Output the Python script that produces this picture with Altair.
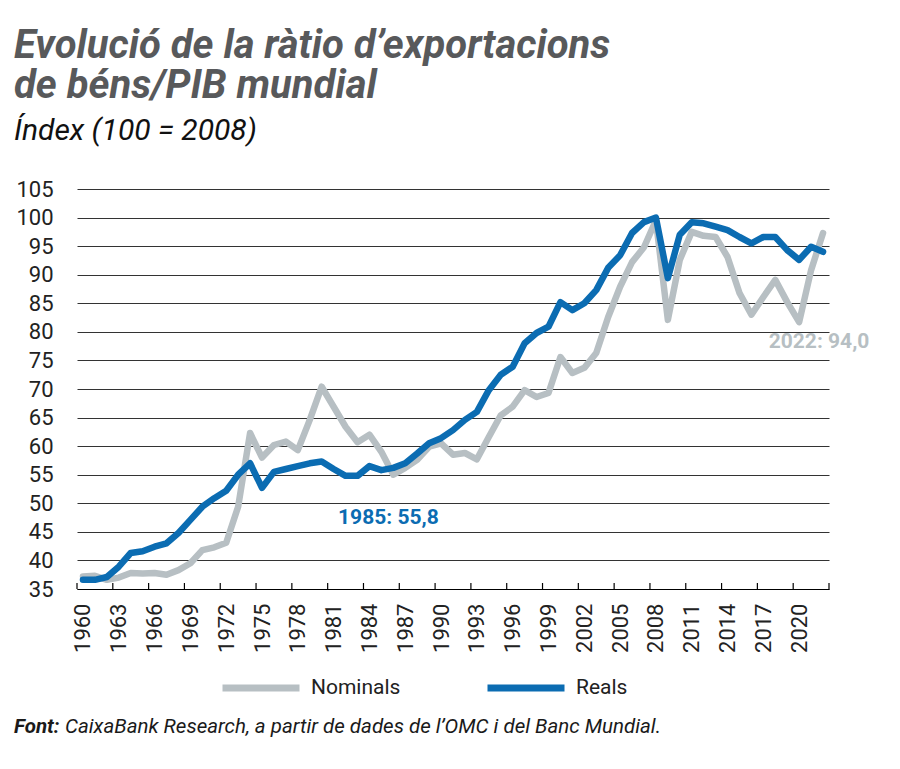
import altair as alt
import pandas as pd

years = list(range(1960, 2023))
nominals = [37.2, 37.3, 36.6, 37.0, 37.8, 37.7, 37.8, 37.5, 38.3, 39.5,
            41.8, 42.3, 43.1, 49.4, 62.3, 58.0, 60.2, 60.8, 59.3, 64.6,
            70.4, 66.9, 63.4, 60.7, 62.0, 59.0, 55.0, 56.2, 57.6, 59.9,
            60.5, 58.5, 58.8, 57.7, 61.6, 65.4, 66.9, 69.8, 68.6, 69.3,
            75.6, 72.8, 73.7, 76.3, 82.6, 87.9, 92.2, 94.8, 99.5, 82.1,
            92.6, 97.5, 96.8, 96.6, 93.1, 86.8, 83.0, 86.1, 89.1, 85.2,
            81.7, 90.8, 97.3]
reals = [36.6, 36.6, 37.1, 38.9, 41.3, 41.6, 42.4, 43.0, 44.8, 47.1,
         49.4, 50.9, 52.2, 55.0, 57.0, 52.7, 55.5, 56.0, 56.5, 57.0,
         57.3, 56.0, 54.8, 54.8, 56.5, 55.8, 56.2, 57.0, 58.7, 60.5,
         61.4, 62.8, 64.6, 66.0, 69.8, 72.5, 73.9, 78.0, 79.8, 80.9,
         85.2, 83.8, 85.0, 87.3, 91.2, 93.4, 97.3, 99.2, 100.0, 89.4,
         97.0, 99.2, 99.0, 98.4, 97.8, 96.6, 95.5, 96.6, 96.6, 94.3,
         92.6, 94.9, 94.0]
series_names = ["Nominals", "Reals"]
series_colors = ["#b7bfc3", "#0b6cb2"]
y_ticks = list(range(35, 106, 5))
x_label_years = years[::3]

title_lines = ["Evolució de la ràtio d’exportacions", "de béns/PIB mundial"]
subtitle = "Índex (100 = 2008)"
source_bold = "Font:"
source_text = "CaixaBank Research, a partir de dades de l’OMC i del Banc Mundial."

FONT = "Roboto, sans-serif"
W, H = 752, 400

df = pd.DataFrame({
    "year": years * 2,
    "value": nominals + reals,
    "series": [series_names[0]] * len(years) + [series_names[1]] * len(years),
})
tick_df = pd.DataFrame({"b": [y - 0.5 for y in x_label_years] + [years[-1] + 0.5]})

xscale = alt.Scale(domain=[years[0] - 0.5, years[-1] + 0.5], nice=False, zero=False)
yscale = alt.Scale(domain=[35, 105], nice=False, zero=False)

lines = alt.Chart(df).mark_line(strokeWidth=6.5, strokeJoin="round", strokeCap="round").encode(
    x=alt.X("year:Q", scale=xscale, title=None,
            axis=alt.Axis(values=x_label_years, tickCount=len(x_label_years) + 5,
                          format="d", labelAngle=-90, ticks=False,
                          grid=False, domainColor="#000", domainWidth=1.2,
                          labelFont=FONT, labelFontSize=22, labelColor="#222",
                          labelPadding=14, labelOverlap=False, labelFlush=False)),
    y=alt.Y("value:Q", scale=yscale, title=None,
            axis=alt.Axis(values=y_ticks, tickCount=len(y_ticks) + 5,
                          grid=True, gridColor="#333", gridWidth=1,
                          domain=False, ticks=False, labelFont=FONT, labelFontSize=22,
                          labelColor="#222", labelPadding=24, labelOverlap=False)),
    color=alt.Color("series:N", scale=alt.Scale(domain=series_names, range=series_colors),
                    legend=alt.Legend(orient="none", legendX=142, legendY=457,
                                      direction="horizontal", title=None,
                                      symbolType="stroke", symbolSize=5929,
                                      symbolStrokeWidth=7, labelFont=FONT,
                                      labelFontSize=21, labelColor="#222",
                                      columnPadding=72, labelOffset=8)),
)

ticks = alt.Chart(tick_df).mark_rule(color="#000", strokeWidth=1.2).encode(
    x=alt.X("b:Q", scale=xscale, title=None),
    y=alt.value(H - 6),
    y2=alt.value(H),
)

ann1 = alt.Chart(pd.DataFrame({"year": [1985], "value": [55.8], "t": ["1985: 55,8"]})).mark_text(
    font=FONT, fontSize=21, fontWeight="bold", color=series_colors[1], dx=7, dy=48
).encode(x=alt.X("year:Q", scale=xscale, title=None),
         y=alt.Y("value:Q", scale=yscale, title=None), text="t:N")

ann2 = alt.Chart(pd.DataFrame({"year": [2022], "value": [94.0], "t": ["2022: 94,0"]})).mark_text(
    font=FONT, fontSize=21, fontWeight="bold", color=series_colors[0], dx=-4, dy=90
).encode(x=alt.X("year:Q", scale=xscale, title=None),
         y=alt.Y("value:Q", scale=yscale, title=None), text="t:N")

foot1 = alt.Chart(pd.DataFrame({"t": [source_bold]})).mark_text(
    font=FONT, fontSize=20.5, fontWeight="bold", fontStyle="italic", color="#1a1a1a",
    align="left", baseline="middle"
).encode(x=alt.value(-63), y=alt.value(538), text="t:N")

foot2 = alt.Chart(pd.DataFrame({"t": [source_text]})).mark_text(
    font=FONT, fontSize=20.5, fontStyle="italic", color="#1a1a1a",
    align="left", baseline="middle"
).encode(x=alt.value(-12), y=alt.value(538), text="t:N")

chart = alt.layer(lines, ticks, ann1, ann2, foot1, foot2).properties(
    width=W, height=H,
    autosize=alt.AutoSizeParams(type="none"),
    padding={"left": 69, "top": 181, "right": 55, "bottom": 160},
    title=alt.Title(text=title_lines, subtitle=subtitle, anchor="start", frame="group",
                    dx=-63, offset=32, font=FONT, fontSize=40, fontWeight="bold",
                    fontStyle="italic", color="#58595b", lineHeight=40,
                    subtitleFont=FONT, subtitleFontSize=30, subtitleFontStyle="italic",
                    subtitleFontWeight="normal", subtitleColor="#111", subtitlePadding=10),
).configure_view(stroke=None)

chart.save("out.html", embed_options={"renderer": "svg", "actions": False})
